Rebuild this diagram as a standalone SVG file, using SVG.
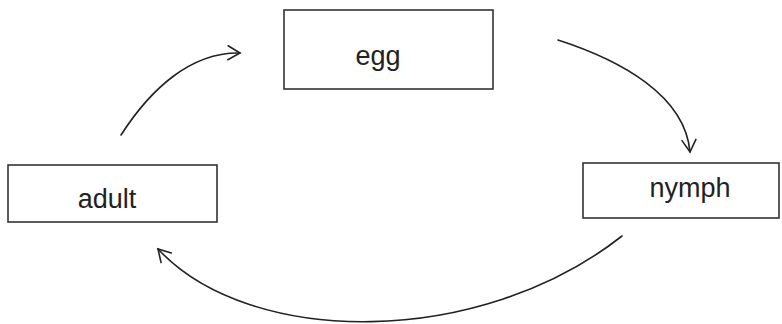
<svg xmlns="http://www.w3.org/2000/svg" width="782" height="324" viewBox="0 0 782 324">
<style>
.box{fill:#fff;stroke:#333;stroke-width:1.6}
.lbl{font-family:"Liberation Sans",Arial,sans-serif;font-size:27px;fill:#222;text-anchor:middle}
.arr{fill:none;stroke:#222;stroke-width:1.6;stroke-linecap:round}
</style>
<defs>
<marker id="ah" markerUnits="userSpaceOnUse" markerWidth="30" markerHeight="30" viewBox="-15 -15 30 30" refX="0" refY="0" orient="auto">
<path d="M-12,-7 L0,0 L-12,7" fill="none" stroke="#222" stroke-width="1.6" stroke-linecap="round"/>
</marker>
</defs>
<rect width="782" height="324" fill="#fff"/>
<g id="egg"><rect class="box" x="284" y="10" width="209" height="79"/><text class="lbl" x="378" y="65">egg</text></g>
<g id="adult"><rect class="box" x="8" y="165" width="209" height="57"/><text class="lbl" x="107" y="208">adult</text></g>
<g id="nymph"><rect class="box" x="583" y="163" width="196" height="55"/><text class="lbl" x="690" y="197">nymph</text></g>
<g id="connectors">
<path class="arr" d="M121,135 C150,90 190,52 240,53" marker-end="url(#ah)"/>
<path class="arr" d="M558,40 C620,60 685,95 690,152" marker-end="url(#ah)"/>
<path class="arr" d="M622,236 C480,348 250,348 158,249" marker-end="url(#ah)"/>
</g>
</svg>
